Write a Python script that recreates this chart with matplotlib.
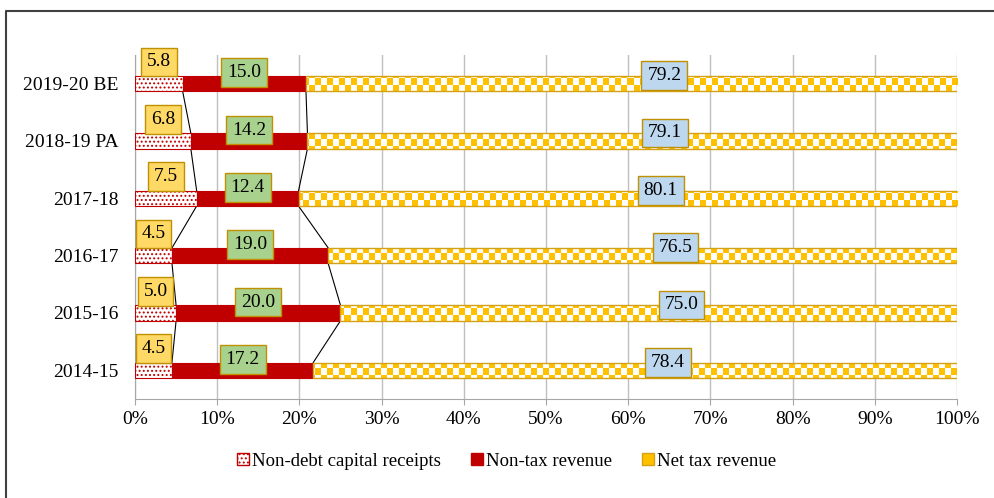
import numpy as np
import matplotlib
matplotlib.use("Agg")
import matplotlib.pyplot as plt
from matplotlib.lines import Line2D
from matplotlib.patches import Patch

plt.rcParams['font.family'] = ['Liberation Serif', 'DejaVu Serif']
plt.rcParams['hatch.linewidth'] = 0.9

years = ['2014-15', '2015-16', '2016-17', '2017-18', '2018-19 PA', '2019-20 BE']
non_debt = [4.5, 5.0, 4.5, 7.5, 6.8, 5.8]
non_tax = [17.2, 20.0, 19.0, 12.4, 14.2, 15.0]
net_tax = [78.4, 75.0, 76.5, 80.1, 79.1, 79.2]

red = '#C00000'
gold = '#FFC000'
gold_edge = '#D4A017'
box_edge = '#BF9000'

nd = np.array(non_debt)
nt = np.array(non_tax)
tx = np.array(net_tax)
tot = nd + nt + tx
nd_p = nd / tot * 100
nt_p = nt / tot * 100
tx_p = tx / tot * 100
c1 = nd_p
c2 = nd_p + nt_p

y = np.arange(len(years))
h = 0.27

fig = plt.figure(figsize=(9.94, 4.98), dpi=100)
ax = fig.add_axes([0.1358, 0.1988, 0.827, 0.6908])

b1 = ax.barh(y, nd_p, height=h, color='white', edgecolor=red, hatch='....', linewidth=0.8, zorder=3)
b2 = ax.barh(y, nt_p, left=c1, height=h, color=red, edgecolor=red, linewidth=0.8, zorder=3)
b3 = ax.barh(y, tx_p, left=c2, height=h, color='white', edgecolor='none', zorder=3)

# checkerboard fill for net tax bars
rows, cols = 57, 137
ii, jj = np.indices((rows, cols))
chk = np.ones((rows, cols, 3))
gold_rgb = np.array(matplotlib.colors.to_rgb(gold))
chk[(ii + jj) % 2 == 0] = gold_rgb
for p in b3.patches:
    im = ax.imshow(chk, extent=(0, 100, -0.5, 5.5), aspect='auto',
                   interpolation='nearest', zorder=3.1)
    im.set_clip_path(p)
ax.barh(y, tx_p, left=c2, height=h, fill=False, edgecolor=gold_edge, linewidth=1.0, zorder=3.2)

# series lines
for i in range(len(years) - 1):
    for c in (c1, c2):
        ax.plot([c[i], c[i + 1]], [y[i] + h / 2, y[i + 1] - h / 2],
                color='black', linewidth=0.8, zorder=2.5)

# data labels
fs = 14
for i in range(len(years)):
    ax.text(c1[i] / 2, y[i] + 0.38, f'{non_debt[i]:.1f}', ha='center', va='center', fontsize=fs,
            zorder=5, bbox=dict(boxstyle='square,pad=0.3', fc='#FFD966', ec=box_edge, lw=1.0))
    ax.text((c1[i] + c2[i]) / 2, y[i] + 0.19, f'{non_tax[i]:.1f}', ha='center', va='center', fontsize=fs,
            zorder=5, bbox=dict(boxstyle='square,pad=0.3', fc='#A9D18E', ec=box_edge, lw=1.0))
    ax.text((c2[i] + 100) / 2 + 4, y[i] + 0.14, f'{net_tax[i]:.1f}', ha='center', va='center', fontsize=fs,
            zorder=5, bbox=dict(boxstyle='square,pad=0.3', fc='#BDD7EE', ec=box_edge, lw=1.0))

ax.set_xlim(0, 100)
ax.set_ylim(-0.5, 5.5)
ax.set_xticks(np.arange(0, 101, 10))
ax.set_xticklabels([f'{v}%' for v in range(0, 101, 10)], fontsize=fs)
ax.set_yticks(y)
ax.set_yticklabels(years, fontsize=fs)
ax.tick_params(axis='y', length=0, pad=12)
ax.tick_params(axis='x', length=4, color='#A6A6A6', pad=5)
ax.grid(axis='x', color='#BFBFBF', linewidth=1.0)
ax.set_axisbelow(True)
for s in ['top', 'right']:
    ax.spines[s].set_visible(False)
ax.spines['left'].set_color('#A6A6A6')
ax.spines['bottom'].set_color('#A6A6A6')

handles = [Patch(facecolor='white', edgecolor=red, hatch='....'),
           Patch(facecolor=red, edgecolor=red),
           Patch(facecolor=gold, edgecolor=gold_edge)]
fig.legend(handles, ['Non-debt capital receipts', 'Non-tax revenue', 'Net tax revenue'],
           loc='center', bbox_to_anchor=(0.51, 0.074), ncol=3, frameon=False, fontsize=13.5,
           handlelength=0.6, handleheight=0.6, handletextpad=0.2, columnspacing=1.6)

# outer frame
fig.add_artist(Line2D([0.0065, 0.0065, 1.0], [0.0, 0.978, 0.978], transform=fig.transFigure,
                      color='#404040', linewidth=1.5))

fig.savefig('out.png', dpi=100)
